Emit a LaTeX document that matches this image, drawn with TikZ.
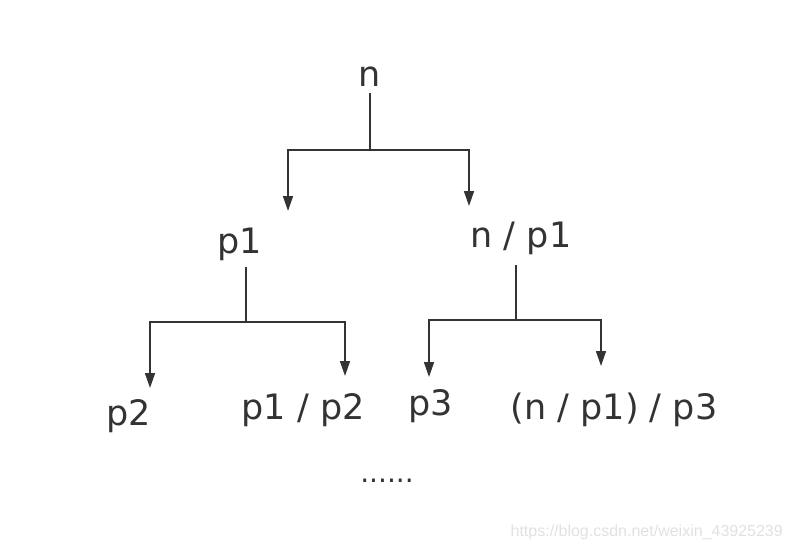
\documentclass[tikz,border=0pt]{standalone}
\usepackage{fontspec}
\setmainfont{DejaVu Sans}
\newfontfamily\wmfont{Liberation Sans}
\usetikzlibrary{arrows.meta}
\definecolor{ink}{RGB}{51,51,51}
\definecolor{wm}{RGB}{225,225,225}
\tikzset{
  lbl/.style={text=ink, inner sep=0pt, anchor=base, font=\fontsize{35}{40}\selectfont},
  conn/.style={draw=ink, line width=1.6pt},
  arr/.style={conn, -{Triangle[width=10pt,length=15pt]}, shorten >=0pt},
}
\begin{document}
\begin{tikzpicture}[x=1pt,y=-1pt]
\useasboundingbox (0,0) rectangle (791,549);
% labels
\node[lbl] (n) at (370,86) {n};
\node[lbl] (p1) at (240,253) {p1};
\node[lbl] (np1) at (521,247) {n / p1};
\node[lbl] (p2) at (129,425) {p2};
\node[lbl] (p1p2) at (303,419) {p1 / p2};
\node[lbl] (p3) at (431,415) {p3};
\node[lbl] (np1p3) at (614,419) {(n / p1) / p3};
\node[text=ink, inner sep=0pt, anchor=base, font=\fontsize{28}{30}\selectfont] (dots) at (387,482) {......};
\node[text=wm, inner sep=0pt, anchor=base east, font=\wmfont\fontsize{16}{20}\selectfont] (wmk) at (783,536) {https://blog.csdn.net/weixin\_43925239};
% junction coordinates
\coordinate (s0) at (370,93);
\coordinate (j0) at (370,150);
\coordinate (t1) at (288,211);
\coordinate (t2) at (469,206);
\coordinate (s1) at (246,267);
\coordinate (j1) at (246,322);
\coordinate (t3) at (150,388);
\coordinate (t4) at (345,376);
\coordinate (s2) at (516,265);
\coordinate (j2) at (516,320);
\coordinate (t5) at (429,377);
\coordinate (t6) at (601,366);
% connectors
\draw[conn] (s0) -- (j0);
\draw[arr] (j0) -| (t1);
\draw[arr] (j0) -| (t2);
\draw[conn] (s1) -- (j1);
\draw[arr] (j1) -| (t3);
\draw[arr] (j1) -| (t4);
\draw[conn] (s2) -- (j2);
\draw[arr] (j2) -| (t5);
\draw[arr] (j2) -| (t6);
\end{tikzpicture}
\end{document}
